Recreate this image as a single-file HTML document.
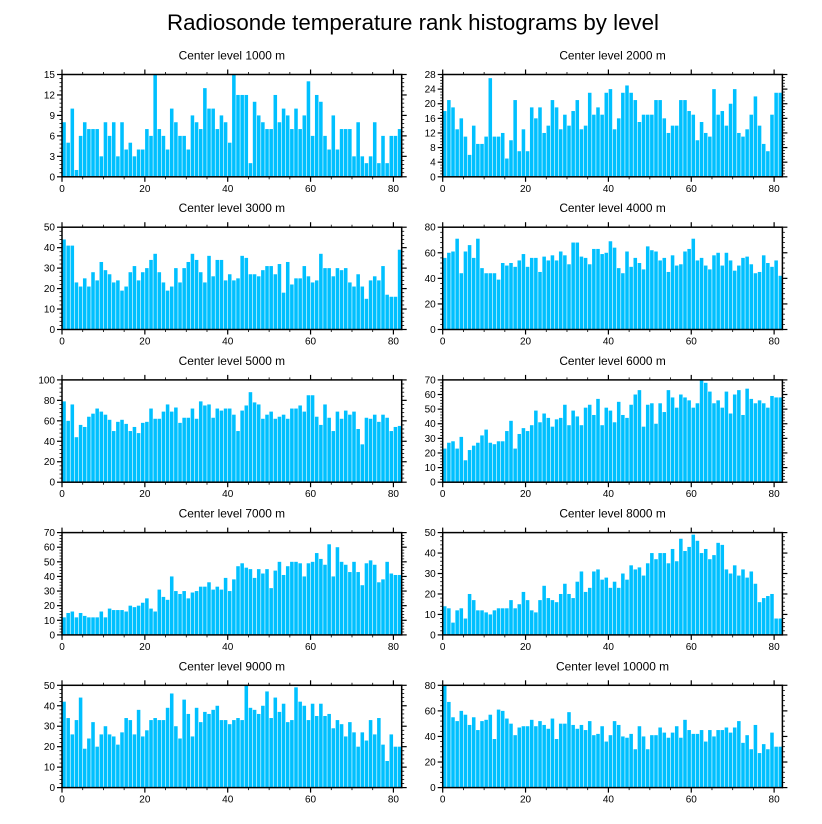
<!DOCTYPE html>
<html><head><meta charset="utf-8">
<style>
html,body{margin:0;padding:0;background:#fff;}
svg{display:block;font-family:"Liberation Sans",sans-serif;}
</style></head>
<body>
<svg id="chart" width="822" height="824" viewBox="0 0 822 824" xmlns="http://www.w3.org/2000/svg">
<rect width="822" height="824" fill="#fff"/>
<text x="413" y="30" font-size="22.3" text-anchor="middle" fill="#000">Radiosonde temperature rank histograms by level</text>
</svg>
<script>
const levels = [1000,2000,3000,4000,5000,6000,7000,8000,9000,10000];
const yMaxes = [15,28,50,80,100,70,70,50,50,80];
const ySteps = [3,4,10,20,20,10,10,10,10,20];
const xTicks = [0,20,40,60,80];
const counts1000 = [8,5,10,1,6,8,7,7,7,3,8,6,8,3,8,4,5,3,4,4,7,6,15,7,6,4,10,8,6,6,4,9,8,7,13,10,10,7,9,8,5,15,12,12,12,2,11,9,8,7,7,12,8,10,9,7,10,7,9,14,6,12,11,6,4,9,4,7,7,7,3,8,3,2,3,8,2,6,2,6,6,7];
const counts2000 = [18,21,19,13,16,11,6,14,9,9,11,27,11,11,12,5,10,21,7,13,7,19,16,19,12,14,21,19,13,17,14,18,21,13,14,23,17,19,17,23,24,13,16,23,25,23,21,15,17,17,17,21,21,16,12,14,14,21,21,18,17,10,15,12,11,24,17,18,14,20,24,12,11,13,17,22,14,9,7,17,23,23];
const counts3000 = [44,41,41,23,21,25,21,28,24,33,29,27,23,24,19,21,28,31,24,28,30,34,37,28,23,19,21,30,23,30,33,37,34,28,23,36,26,34,34,24,27,24,25,36,35,27,27,26,29,31,31,27,32,18,33,22,25,25,31,26,23,24,37,30,30,26,30,29,30,23,21,27,21,15,24,26,24,31,17,16,16,39];
const counts4000 = [56,60,61,71,44,61,66,56,71,48,44,44,44,39,52,50,52,49,54,59,49,56,56,45,57,54,58,54,61,58,51,68,68,57,56,51,63,63,59,60,69,64,48,44,61,49,56,52,47,65,62,61,54,56,45,58,50,51,61,63,71,54,56,50,47,58,60,50,60,54,46,50,56,57,51,44,45,58,52,49,54,42];
const counts5000 = [79,60,76,44,56,54,64,67,72,69,66,61,50,59,61,57,50,54,48,58,59,72,62,62,69,76,69,73,58,63,63,72,62,79,75,76,63,72,70,72,72,66,50,70,75,88,78,76,62,66,69,62,64,66,62,72,72,75,69,85,85,64,56,76,63,50,69,62,70,66,69,52,37,63,62,66,59,66,63,50,54,55];
const counts6000 = [23,27,28,23,31,15,22,25,27,32,36,27,26,28,28,35,42,23,33,37,35,39,49,41,47,44,38,43,44,53,39,49,45,39,51,53,46,57,39,51,49,41,55,46,44,53,60,63,38,53,54,40,54,48,63,58,51,60,58,56,51,54,70,68,62,54,56,51,62,47,60,63,46,64,57,54,56,54,51,59,58,58];
const counts7000 = [12,15,16,12,15,13,12,12,12,16,12,18,17,17,17,16,20,19,20,22,25,18,16,31,26,24,40,30,28,30,25,29,30,33,33,36,31,33,31,39,30,38,47,49,46,45,39,45,42,45,32,44,50,41,47,50,50,49,40,49,50,56,52,48,62,40,60,50,48,43,50,43,34,49,51,48,36,38,50,42,41,41];
const counts8000 = [14,13,6,12,13,8,20,17,12,12,11,10,12,13,13,13,17,13,15,21,17,12,11,17,24,18,17,16,20,25,20,18,26,31,21,23,31,32,27,28,23,26,23,30,27,34,32,33,29,35,40,37,40,40,35,42,36,47,41,43,49,46,40,42,37,39,45,44,32,30,34,29,32,28,31,25,16,18,19,20,8,8];
const counts9000 = [42,34,26,33,44,19,24,32,20,26,30,26,25,21,27,34,33,26,38,25,28,33,34,33,33,39,46,30,24,43,36,25,39,32,37,36,38,40,33,33,31,33,34,33,50,39,38,36,40,47,34,44,37,41,32,33,49,42,40,33,41,35,41,35,36,29,33,31,25,32,27,20,27,23,33,26,34,21,13,26,20,20];
const counts10000 = [80,67,55,52,60,57,49,55,45,52,53,57,38,61,60,54,50,41,47,48,48,53,48,52,49,46,54,38,50,50,59,49,46,49,45,52,41,42,48,36,41,52,49,40,39,42,30,48,40,30,41,41,47,43,39,43,48,39,53,45,42,42,45,36,45,40,45,45,47,43,47,52,35,41,30,49,27,34,30,43,32,32];
const allCounts = [counts1000,counts2000,counts3000,counts4000,counts5000,counts6000,counts7000,counts8000,counts9000,counts10000];

const NS = "http://www.w3.org/2000/svg";
const svg = document.getElementById('chart');
function mk(tag, attrs, parent){
  const e = document.createElementNS(NS, tag);
  for (const k in attrs) e.setAttribute(k, attrs[k]);
  (parent||svg).appendChild(e);
  return e;
}
const PW = 339.7, PH = 102.3, XMAX = 82;
for (let p = 0; p < 10; p++) {
  const col = p % 2, row = Math.floor(p / 2);
  const L = col ? 442.7 : 62, T = 74.5 + row * 152.7, B = T + PH, R = L + PW;
  const ymax = yMaxes[p], ystep = ySteps[p], data = allCounts[p];
  const xs = v => L + v / XMAX * PW;
  const ys = v => B - Math.min(v, ymax) / ymax * PH;
  const g = mk('g', {});
  
  
  const st = mk('text', {x: (L + R) / 2, y: T - 15, 'font-size': 11.9, 'text-anchor': 'middle', fill: '#000'}, g);
  
  
  st.textContent = 'Center level ' + levels[p] + ' m';
  data.forEach((v, i) => {
    const x0 = xs(i), x1 = xs(i + 1);
    const r = mk('rect', {x: x0 + 0.25, y: ys(v), width: Math.max(0, x1 - x0 - 0.6), height: B - ys(v), fill: '#00c0ff'}, g);
    
    
  });
  const fr = mk('rect', {x: L, y: T, width: PW, height: PH, fill: 'none', stroke: '#000', 'stroke-width': 1.5}, g);
  
  
  for (let v = 0; v <= XMAX; v += 5) {
    const x = xs(v), maj = v % 20 === 0, len = maj ? 5 : 2.5;
    mk('line', {x1: x, y1: B, x2: x, y2: B + len, stroke: '#000', 'stroke-width': maj ? 1.2 : 0.8}, g);
    mk('line', {x1: x, y1: T, x2: x, y2: T - len, stroke: '#000', 'stroke-width': maj ? 1.2 : 0.8}, g);
  }
  xTicks.forEach(v => {
    const t = mk('text', {x: xs(v), y: B + 15, 'font-size': 10, 'text-anchor': 'middle', fill: '#000'}, g);
    
    
    t.textContent = v;
  });
  const minor = ystep / 5;
  for (let k = 0; k * minor <= ymax + 1e-9; k++) {
    const v = k * minor, y = ys(v), maj = k % 5 === 0, len = maj ? 5 : 2.5;
    mk('line', {x1: L, y1: y, x2: L - len, y2: y, stroke: '#000', 'stroke-width': maj ? 1.2 : 0.8}, g);
    mk('line', {x1: R, y1: y, x2: R + len, y2: y, stroke: '#000', 'stroke-width': maj ? 1.2 : 0.8}, g);
  }
  for (let v = 0; v <= ymax + 1e-9; v += ystep) {
    const t = mk('text', {x: L - 7, y: ys(v) + 3.5, 'font-size': 10, 'text-anchor': 'end', fill: '#000'}, g);
    
    
    t.textContent = v;
  }
}
</script>
</body></html>
